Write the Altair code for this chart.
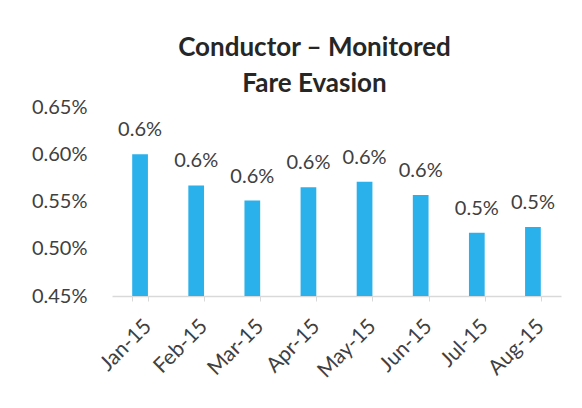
import altair as alt
import pandas as pd

months = ["Jan-15", "Feb-15", "Mar-15", "Apr-15", "May-15", "Jun-15", "Jul-15", "Aug-15"]
evasion = [0.00600, 0.00567, 0.00551, 0.00565, 0.00571, 0.00557, 0.00517, 0.00523]
y_ticks = [0.0045, 0.0050, 0.0055, 0.0060, 0.0065]

df = pd.DataFrame({"month": months, "rate": evasion})

FONT = "Lato"
base = alt.Chart(df).encode(
    x=alt.X("month:N", sort=months, title=None,
            scale=alt.Scale(paddingInner=0.72, paddingOuter=0.36),
            axis=alt.Axis(labelAngle=-45, labelAlign="right", labelBaseline="top",
                          labelFontSize=21, labelColor="#404040", labelFont=FONT,
                          labelPadding=14, tickBand="extent", tickSize=5,
                          tickColor="#d9d9d9", domainColor="#d9d9d9", domainWidth=1.5)),
    y=alt.Y("rate:Q", title=None,
            scale=alt.Scale(domain=[0.0045, 0.0065], clamp=True, zero=False, nice=False),
            axis=alt.Axis(values=y_ticks, format=".2%", grid=False, domain=False, ticks=False,
                          labelFontSize=20, labelColor="#404040", labelFont=FONT,
                          labelPadding=25)),
)

bars = base.mark_bar(color="#2AB0EB").encode(y2=alt.datum(0.0045))
labels = base.mark_text(dy=-24, fontSize=20, font=FONT, color="#404040").encode(
    text=alt.Text("rate:Q", format=".1%"))

chart = (bars + labels).properties(
    width=449, height=189,
    padding={"left": 23, "top": 27, "right": 5, "bottom": 5},
    title=alt.TitleParams(["Conductor – Monitored", "Fare Evasion"], fontSize=26,
                          font=FONT, fontWeight="bold", color="#262626",
                          lineHeight=36, anchor="middle", dx=-22, offset=0),
).configure_view(stroke=None)

chart.save("out.html", embed_options={"renderer": "svg", "actions": False})
